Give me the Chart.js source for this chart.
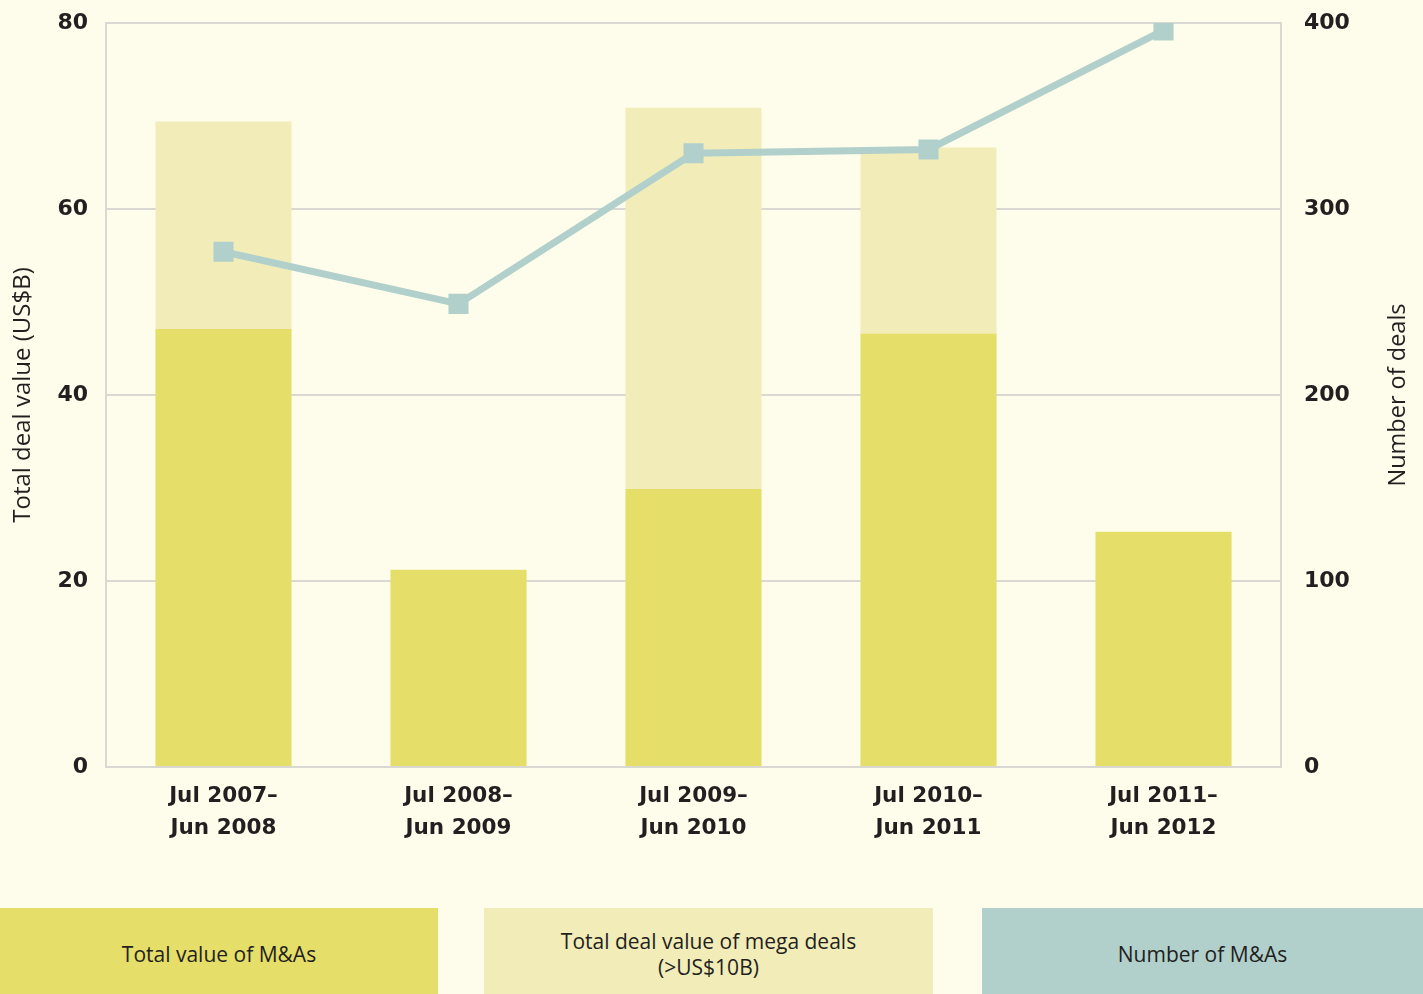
<!DOCTYPE html>
<html>
<head>
<meta charset="utf-8">
<title>M&amp;A deal value and number of deals</title>
<script src="https://cdn.jsdelivr.net/npm/chart.js@4"></script>
<style>
    html, body {
        margin: 0;
        padding: 0;
        background: #fefcea;
    }
    #wrap {
        position: relative;
        width: 1423px;
        height: 994px;
        background: #fefcea;
        font-family: "Open Sans", "Noto Sans", sans-serif;
    }
    #chartBox {
        position: absolute;
        left: 0;
        top: 0;
        width: 1423px;
        height: 880px;
    }
    .key {
        position: absolute;
        top: 908px;
        height: 80px;
        padding-top: 6px;
        display: flex;
        align-items: center;
        justify-content: center;
        text-align: center;
        font-size: 21px;
        line-height: 26px;
        color: #231f20;
    }
</style>
</head>
<body>
<div id="wrap">
    <div id="chartBox"><canvas id="dealChart" width="1423" height="880"></canvas></div>
    <div class="key" style="left:0; width:438px; background:#e5de68;">Total value of M&amp;As</div>
    <div class="key" style="left:484px; width:449px; background:#f2edb8;">Total deal value of mega deals<br>(&gt;US$10B)</div>
    <div class="key" style="left:982px; width:441px; background:#b1d0cc;">Number of M&amp;As</div>
</div>

<script>
// Financial years (Jul–Jun)
const periods = [
    ['Jul 2007–', 'Jun 2008'],
    ['Jul 2008–', 'Jun 2009'],
    ['Jul 2009–', 'Jun 2010'],
    ['Jul 2010–', 'Jun 2011'],
    ['Jul 2011–', 'Jun 2012']
];

// Deal value, US$B (mega deals stacked on top of the rest)
const totalValue = [47.1, 21.2, 29.9, 46.6, 25.3];
const megaValue = [22.3, 0, 41.0, 20.0, 0];

// Number of deals (right axis)
const dealCount = [277, 249, 330, 332, 396];

const valueTicks = [0, 20, 40, 60, 80];
const countTicks = [0, 100, 200, 300, 400];

const colours = {
    total: '#e5de68',
    mega: '#f2edb8',
    count: '#b1d0cc',
    grid: '#d9d8d2',
    text: '#231f20'
};

const tickFont = { family: '"DejaVu Sans", sans-serif', size: 22, weight: 'bold' };
const titleFont = { family: '"Open Sans", "Noto Sans", sans-serif', size: 24 };

// Keep the plot box where the layout padding puts it
function fixVertical(scale, width) {
    scale.width = width;
    scale.paddingTop = 0;
    scale.paddingBottom = 0;
}

// Right-hand axis title, read bottom-to-top like the left one
const rightTitle = {
    id: 'rightTitle',
    afterDraw(chart) {
        const { ctx, chartArea } = chart;
        ctx.save();
        ctx.translate(1398, (chartArea.top + chartArea.bottom) / 2);
        ctx.rotate(-Math.PI / 2);
        ctx.font = '23.5px "Open Sans", "Noto Sans", sans-serif';
        ctx.fillStyle = colours.text;
        ctx.textAlign = 'center';
        ctx.textBaseline = 'middle';
        ctx.fillText('Number of deals', 0, 0);
        ctx.restore();
    }
};

const ctx = document.getElementById('dealChart').getContext('2d');
new Chart(ctx, {
    type: 'bar',
    data: {
        labels: periods,
        datasets: [
            {
                type: 'line',
                label: 'Number of M&As',
                data: dealCount,
                yAxisID: 'y1',
                borderColor: colours.count,
                backgroundColor: colours.count,
                borderWidth: 7,
                pointStyle: 'rect',
                pointRadius: 14.2,
                pointBorderWidth: 0,
                pointBackgroundColor: colours.count,
                tension: 0,
                order: 0
            },
            {
                label: 'Total value of M&As',
                data: totalValue,
                yAxisID: 'y',
                backgroundColor: colours.total,
                stack: 'value',
                barPercentage: 0.579,
                categoryPercentage: 1,
                order: 1
            },
            {
                label: 'Total deal value of mega deals (>US$10B)',
                data: megaValue,
                yAxisID: 'y',
                backgroundColor: colours.mega,
                stack: 'value',
                barPercentage: 0.579,
                categoryPercentage: 1,
                order: 2
            }
        ]
    },
    options: {
        responsive: false,
        animation: false,
        layout: {
            padding: { top: 23, right: 0, bottom: 0, left: 0 }
        },
        plugins: {
            legend: { display: false },
            tooltip: { enabled: false }
        },
        scales: {
            x: {
                stacked: true,
                grid: { display: false, drawTicks: false },
                border: { display: true, color: colours.grid, width: 2 },
                ticks: {
                    color: colours.text,
                    font: { ...tickFont, size: 21.5, lineHeight: 1.49 },
                    padding: 13,
                    maxRotation: 0
                },
                afterFit(scale) {
                    scale.height = 113;
                    scale.paddingLeft = 0;
                    scale.paddingRight = 0;
                }
            },
            y: {
                position: 'left',
                stacked: true,
                min: 0,
                max: 80,
                afterBuildTicks(scale) { scale.ticks = valueTicks.map(v => ({ value: v })); },
                grid: { color: colours.grid, lineWidth: 2, drawTicks: false },
                border: { display: true, color: colours.grid, width: 2 },
                ticks: { color: colours.text, font: tickFont, padding: 18 },
                title: {
                    display: true,
                    text: 'Total deal value (US$B)',
                    color: colours.text,
                    font: titleFont,
                    padding: { top: 9, bottom: 0 }
                },
                afterFit(scale) { fixVertical(scale, 106); }
            },
            y1: {
                position: 'right',
                min: 0,
                max: 400,
                afterBuildTicks(scale) { scale.ticks = countTicks.map(v => ({ value: v })); },
                grid: { display: false, drawTicks: false },
                border: { display: true, color: colours.grid, width: 2 },
                ticks: { color: colours.text, font: tickFont, padding: 23 },
                afterFit(scale) { fixVertical(scale, 142); }
            }
        }
    },
    plugins: [rightTitle]
});
</script>
</body>
</html>
